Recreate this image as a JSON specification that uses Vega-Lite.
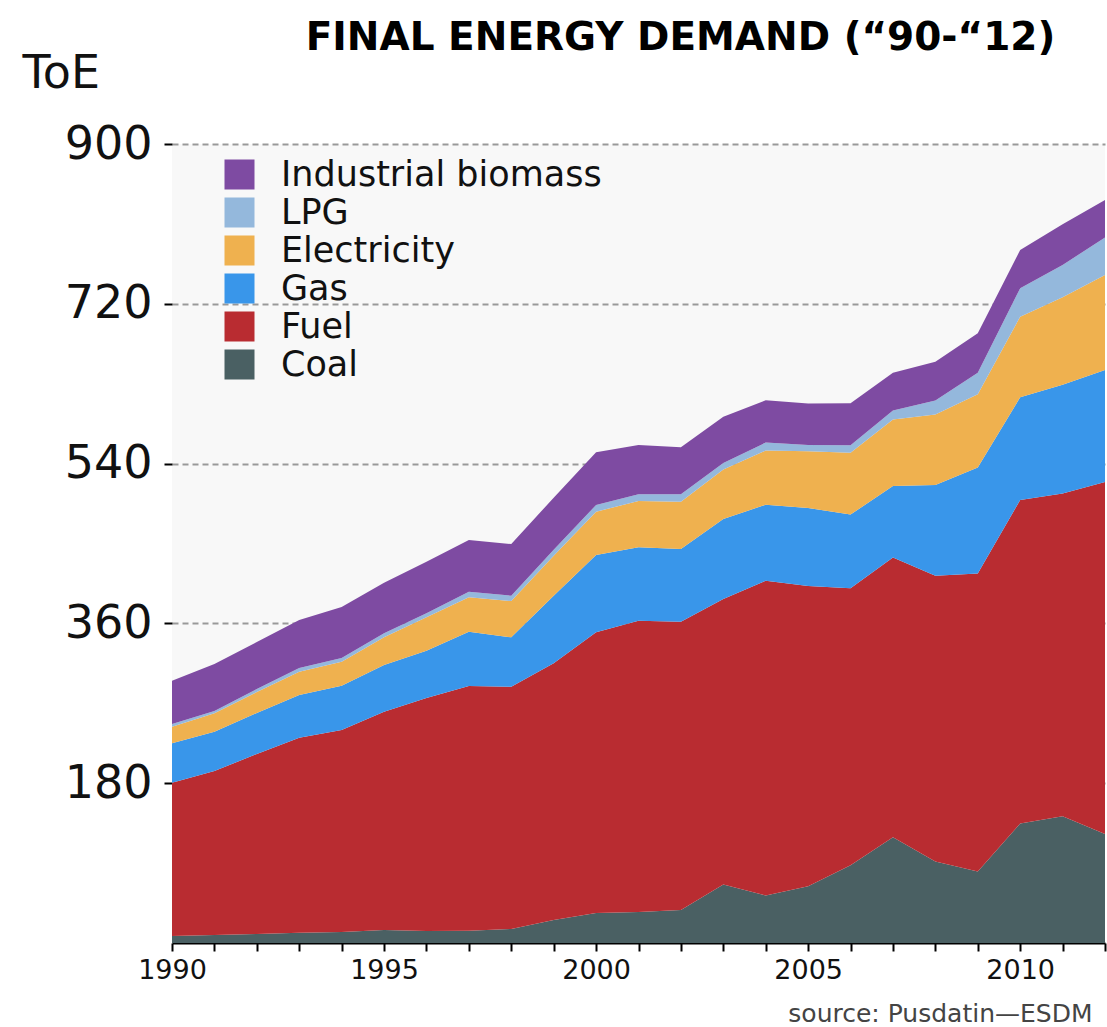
{
  "$schema": "https://vega.github.io/schema/vega-lite/v6.json",
  "autosize": {"type": "none"},
  "padding": {"left": 172, "top": 144, "right": 2, "bottom": 84},
  "width": 933,
  "height": 799,
  "background": "white",
  "title": {
    "text": "FINAL ENERGY DEMAND (“90-“12)",
    "font": "DejaVu Sans",
    "fontWeight": "bold",
    "fontSize": 39,
    "color": "#000",
    "anchor": "middle",
    "frame": "group",
    "dx": 42,
    "offset": -8
  },
  "data": {
    "values": [
      {"year": 1990, "Coal": 7.9, "Fuel": 172.7, "Gas": 44.3, "Electricity": 18.7, "LPG": 3.1, "Industrial biomass": 48.8},
      {"year": 1991, "Coal": 9.0, "Fuel": 184.7, "Gas": 44.3, "Electricity": 20.7, "LPG": 2.6, "Industrial biomass": 53.0},
      {"year": 1992, "Coal": 10.1, "Fuel": 202.8, "Gas": 46.2, "Electricity": 23.6, "LPG": 3.4, "Industrial biomass": 52.9},
      {"year": 1993, "Coal": 11.6, "Fuel": 219.7, "Gas": 48.0, "Electricity": 26.3, "LPG": 4.2, "Industrial biomass": 54.0},
      {"year": 1994, "Coal": 12.4, "Fuel": 227.5, "Gas": 49.9, "Electricity": 27.1, "LPG": 4.1, "Industrial biomass": 57.5},
      {"year": 1995, "Coal": 14.6, "Fuel": 245.9, "Gas": 52.6, "Electricity": 31.2, "LPG": 4.5, "Industrial biomass": 57.0},
      {"year": 1996, "Coal": 13.5, "Fuel": 262.5, "Gas": 53.2, "Electricity": 37.7, "LPG": 4.5, "Industrial biomass": 58.1},
      {"year": 1997, "Coal": 13.9, "Fuel": 275.6, "Gas": 61.2, "Electricity": 38.7, "LPG": 6.3, "Industrial biomass": 58.2},
      {"year": 1998, "Coal": 15.8, "Fuel": 272.9, "Gas": 55.6, "Electricity": 40.9, "LPG": 6.0, "Industrial biomass": 58.2},
      {"year": 1999, "Coal": 25.9, "Fuel": 289.2, "Gas": 76.1, "Electricity": 45.1, "LPG": 6.7, "Industrial biomass": 58.6},
      {"year": 2000, "Coal": 33.8, "Fuel": 316.2, "Gas": 87.0, "Electricity": 48.8, "LPG": 7.6, "Industrial biomass": 59.3},
      {"year": 2001, "Coal": 34.9, "Fuel": 328.1, "Gas": 82.7, "Electricity": 52.2, "LPG": 7.5, "Industrial biomass": 55.6},
      {"year": 2002, "Coal": 37.2, "Fuel": 324.7, "Gas": 81.9, "Electricity": 53.3, "LPG": 8.3, "Industrial biomass": 53.0},
      {"year": 2003, "Coal": 66.0, "Fuel": 321.5, "Gas": 90.1, "Electricity": 55.7, "LPG": 7.4, "Industrial biomass": 52.1},
      {"year": 2004, "Coal": 53.5, "Fuel": 354.6, "Gas": 85.6, "Electricity": 61.1, "LPG": 8.9, "Industrial biomass": 47.6},
      {"year": 2005, "Coal": 63.8, "Fuel": 338.2, "Gas": 88.0, "Electricity": 63.9, "LPG": 7.1, "Industrial biomass": 46.7},
      {"year": 2006, "Coal": 87.5, "Fuel": 312.0, "Gas": 83.1, "Electricity": 69.7, "LPG": 8.4, "Industrial biomass": 47.4},
      {"year": 2007, "Coal": 119.1, "Fuel": 315.2, "Gas": 80.4, "Electricity": 74.9, "LPG": 10.2, "Industrial biomass": 42.6},
      {"year": 2008, "Coal": 91.7, "Fuel": 322.1, "Gas": 102.1, "Electricity": 79.5, "LPG": 15.7, "Industrial biomass": 43.7},
      {"year": 2009, "Coal": 80.5, "Fuel": 335.8, "Gas": 119.2, "Electricity": 82.6, "LPG": 24.3, "Industrial biomass": 44.4},
      {"year": 2010, "Coal": 134.6, "Fuel": 364.4, "Gas": 115.6, "Electricity": 90.9, "LPG": 32.0, "Industrial biomass": 43.1},
      {"year": 2011, "Coal": 142.8, "Fuel": 363.6, "Gas": 122.4, "Electricity": 98.5, "LPG": 36.4, "Industrial biomass": 45.8},
      {"year": 2012, "Coal": 122.8, "Fuel": 396.5, "Gas": 126.1, "Electricity": 107.0, "LPG": 42.3, "Industrial biomass": 42.2}
    ]
  },
  "transform": [
    {"fold": ["Coal", "Fuel", "Gas", "Electricity", "LPG", "Industrial biomass"], "as": ["type", "value"]},
    {"window": [{"op": "row_number", "as": "layer"}], "groupby": ["year"]}
  ],
  "mark": {"type": "area", "opacity": 1},
  "encoding": {
    "x": {
      "field": "year",
      "type": "quantitative",
      "scale": {"domain": [1990, 2012], "nice": false, "zero": false},
      "axis": {
        "values": [1990, 1991, 1992, 1993, 1994, 1995, 1996, 1997, 1998, 1999, 2000, 2001, 2002, 2003, 2004, 2005, 2006, 2007, 2008, 2009, 2010, 2011, 2012],
        "labelExpr": "datum.value % 5 == 0 ? '' + datum.value : ''",
        "labelFont": "DejaVu Sans",
        "labelFontSize": 27,
        "labelColor": "#111",
        "labelPadding": 6,
        "labelOverlap": false,
        "labelFlush": false,
        "grid": false,
        "domain": true,
        "domainColor": "#000",
        "domainWidth": 2,
        "ticks": true,
        "tickColor": "#000",
        "tickWidth": 2,
        "tickSize": 8,
        "title": "source: Pusdatin—ESDM",
        "titleFont": "DejaVu Sans",
        "titleFontSize": 25,
        "titleFontWeight": "normal",
        "titleColor": "#444",
        "titleAlign": "right",
        "titleAnchor": "end",
        "titleBaseline": "middle",
        "titleX": 920,
        "titleY": 70
      }
    },
    "y": {
      "field": "value",
      "type": "quantitative",
      "stack": "zero",
      "scale": {"domain": [0, 900], "nice": false},
      "axis": {
        "values": [180, 360, 540, 720, 900],
        "format": "d",
        "labelFont": "DejaVu Sans",
        "labelFontSize": 46,
        "labelColor": "#111",
        "labelPadding": 12,
        "domain": false,
        "ticks": true,
        "tickColor": "#000",
        "tickWidth": 2,
        "tickSize": 8,
        "grid": true,
        "gridColor": "#999",
        "gridWidth": 2,
        "gridDash": [6, 4],
        "title": "ToE",
        "titleFont": "DejaVu Sans",
        "titleFontSize": 46,
        "titleFontWeight": "normal",
        "titleColor": "#111",
        "titleAngle": 0,
        "titleAlign": "left",
        "titleBaseline": "middle",
        "titleX": -150,
        "titleY": -71
      }
    },
    "color": {
      "field": "type",
      "type": "nominal",
      "sort": ["Coal", "Fuel", "Gas", "Electricity", "LPG", "Industrial biomass"],
      "scale": {
        "domain": ["Coal", "Fuel", "Gas", "Electricity", "LPG", "Industrial biomass"],
        "range": ["#4a6063", "#b92c31", "#3996ea", "#efb14f", "#94b8dc", "#7e4ba2"]
      },
      "legend": {
        "values": ["Industrial biomass", "LPG", "Electricity", "Gas", "Fuel", "Coal"],
        "title": null,
        "orient": "none",
        "legendX": 50,
        "legendY": 13,
        "padding": 0,
        "symbolType": "square",
        "symbolSize": 900,
        "symbolStrokeWidth": 0,
        "symbolOpacity": 1,
        "labelFont": "DejaVu Sans",
        "labelFontSize": 35,
        "labelColor": "#111",
        "labelOffset": 24,
        "rowPadding": 2,
        "labelLimit": 500
      }
    },
    "order": {"field": "layer", "type": "quantitative", "sort": "ascending"}
  },
  "config": {
    "view": {"fill": "#f8f8f8", "stroke": null}
  }
}
